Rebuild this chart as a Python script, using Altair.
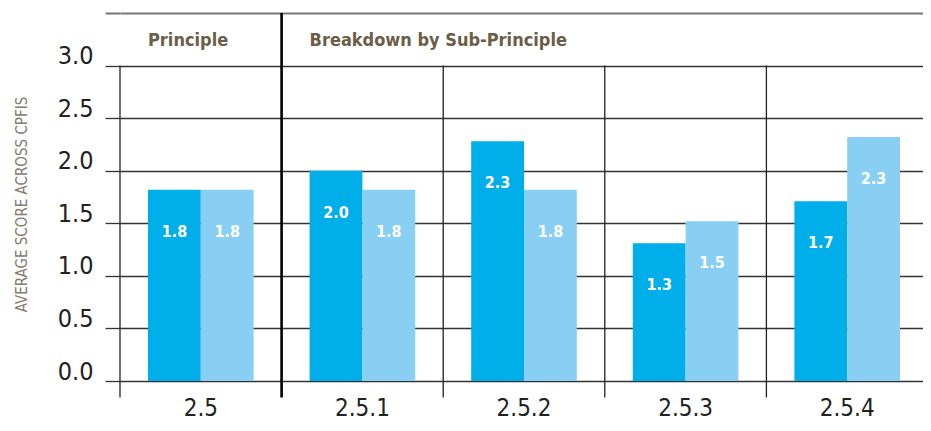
import altair as alt
import pandas as pd

# ---- data ----
categories = ["2.5", "2.5.1", "2.5.2", "2.5.3", "2.5.4"]
series = ["Series 1", "Series 2"]
series1_values = [1.82, 2.00, 2.28, 1.31, 1.71]
series2_values = [1.82, 1.82, 1.82, 1.52, 2.32]
y_ticks = [0.0, 0.5, 1.0, 1.5, 2.0, 2.5, 3.0, 3.5]
header_texts = ["Principle", "Breakdown by Sub-Principle"]
header_cats = ["2.5", "2.5.1"]
thin_divider_cats = ["2.5", "2.5.2", "2.5.3", "2.5.4"]
thick_divider_cats = ["2.5.1"]

rows = []
for c, v1, v2 in zip(categories, series1_values, series2_values):
    rows.append({"cat": c, "series": series[0], "value": v1})
    rows.append({"cat": c, "series": series[1], "value": v2})
bars_df = pd.DataFrame(rows)
thin_df = pd.DataFrame({"cat": thin_divider_cats})
thick_df = pd.DataFrame({"cat": thick_divider_cats})
head_df = pd.DataFrame({"cat": header_cats, "text": header_texts})

FONT = "Liberation Sans Narrow, DejaVu Sans Condensed, sans-serif"
DARK = "#00AEEA"
LIGHT = "#88CFF3"
GRID = "#333333"

x_scale = alt.Scale(domain=categories, paddingInner=0, paddingOuter=0, range=[0, 808])
x_axis = alt.Axis(title=None, labelAngle=0, domain=False, ticks=False, grid=False,
                  labelFontSize=24, labelColor="#222222", labelFont=FONT,
                  labelPadding=15)
y_scale = alt.Scale(domain=[0, 3.5], nice=False, zero=True)
y_axis = alt.Axis(values=y_ticks, format=".1f",
                  labelExpr="datum.value > 3.2 ? '' : datum.label",
                  grid=True,
                  gridColor=alt.condition("datum.value > 3.2", alt.value("#777777"), alt.value(GRID)),
                  gridWidth=alt.condition("datum.value > 3.2", alt.value(2), alt.value(1.3)),
                  tickSize=15,
                  tickColor=alt.condition("datum.value > 3.2", alt.value("#777777"), alt.value(GRID)),
                  tickWidth=alt.condition("datum.value > 3.2", alt.value(2), alt.value(1.3)),
                  domain=False,
                  labelPadding=12, labelFontSize=25, labelFont=FONT,
                  labelColor="#222222", labelBaseline="alphabetic", labelOffset=-2,
                  title="AVERAGE SCORE ACROSS CPFIS", titleFont=FONT,
                  titleFontSize=15, titleFontWeight="normal", titleColor="#857B6E",
                  titleAngle=-90, titleX=-99, titleY=191, titleAlign="center",
                  titleBaseline="middle")

base_bars = alt.Chart(bars_df).encode(
    x=alt.X("cat:N", sort=categories, scale=x_scale, axis=x_axis),
    xOffset=alt.XOffset("series:N", sort=series,
                        scale=alt.Scale(domain=series, paddingInner=0, paddingOuter=0.53)),
    y=alt.Y("value:Q", scale=y_scale, axis=y_axis),
)

bars = base_bars.mark_bar().encode(
    color=alt.Color("series:N", scale=alt.Scale(domain=series, range=[DARK, LIGHT]), legend=None)
)

labels = base_bars.mark_text(baseline="middle", dy=42, color="white", fontWeight="bold",
                             fontSize=16, font=FONT).encode(
    text=alt.Text("value:Q", format=".1f")
)

thin_rules = alt.Chart(thin_df).mark_rule(color="#222222", strokeWidth=1.3).encode(
    x=alt.X("cat:N", bandPosition=0, sort=categories, scale=x_scale, axis=x_axis),
    y=alt.datum(3.0),
    y2=alt.datum(-0.157),
)

thick_rules = alt.Chart(thick_df).mark_rule(color="#000000", strokeWidth=2.6).encode(
    x=alt.X("cat:N", bandPosition=0, sort=categories, scale=x_scale, axis=x_axis),
    y=alt.datum(3.5),
    y2=alt.datum(-0.157),
)

headers = alt.Chart(head_df).mark_text(align="left", baseline="alphabetic", dx=28,
                                       fontWeight="bold", fontSize=18, font=FONT,
                                       color="#6B5D47").encode(
    x=alt.X("cat:N", bandPosition=0, sort=categories, scale=x_scale, axis=x_axis),
    y=alt.datum(3.19),
    text="text:N",
)

chart = alt.layer(bars, labels, thin_rules, thick_rules, headers).properties(
    width=803, height=368,
    autosize=alt.AutoSizeParams(type="none"),
    padding={"left": 112, "top": 5, "right": 0, "bottom": 42},
).configure_view(stroke=None)

chart.save("out.html", embed_options={"renderer": "svg", "actions": False})
